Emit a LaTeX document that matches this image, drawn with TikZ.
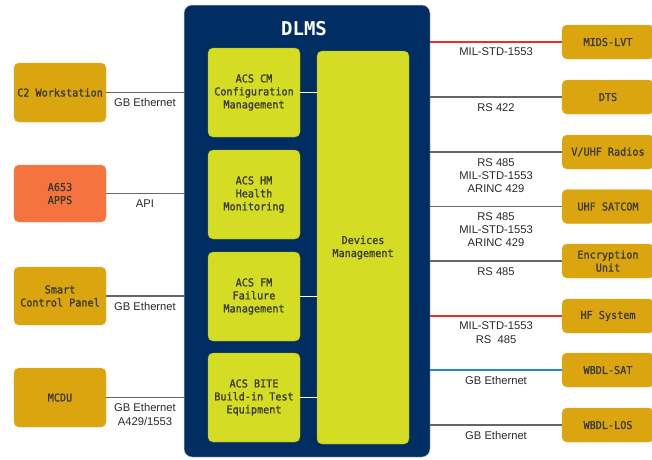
\documentclass[tikz,border=0pt]{standalone}
\usepackage{fontspec}
\setmainfont{Liberation Sans}
\newfontfamily\boxfont[FakeStretch=0.94,FakeBold=1.2]{DejaVu Sans Mono}
\newfontfamily\titlefont{DejaVu Sans Mono}
\definecolor{navy}{HTML}{002D62}
\definecolor{lime}{HTML}{D4DD23}
\definecolor{gold}{HTML}{DAA50F}
\definecolor{orangebox}{HTML}{F4733E}
\definecolor{boxtext}{HTML}{3A3A2E}
\definecolor{labeltext}{HTML}{2A2A2A}
\definecolor{linegray}{HTML}{666666}
\definecolor{linered}{HTML}{E8302A}
\definecolor{lineblue}{HTML}{1E88D0}
\tikzset{
  dev/.style={rectangle, rounded corners=5pt, fill=gold, draw=gold!85!white, minimum width=92pt, inner sep=1pt,
    font=\boxfont\fontsize{10.8}{13}\selectfont, text=boxtext, align=center},
  inbox/.style={rectangle, rounded corners=5pt, fill=lime, draw=lime!80!black, line width=0.4pt, minimum width=92pt, minimum height=89pt, inner sep=1pt,
    font=\boxfont\fontsize{10.8}{13}\selectfont, text=boxtext, align=center},
  lbl/.style={font=\fontsize{11.2}{13.2}\selectfont, text=labeltext, align=center, inner sep=0pt, anchor=north},
  conn/.style={line width=1.4pt, draw=linegray},
  wconn/.style={line width=1.6pt, draw=white},
}
\begin{document}
\begin{tikzpicture}[x=1pt,y=-1pt]
\clip (0,0) rectangle (652,459);
\fill[white] (0,0) rectangle (652,459);
% DLMS
\node[rectangle, rounded corners=8pt, fill=navy, draw=gray!40, line width=0.5pt, minimum width=246pt, minimum height=452pt, inner sep=0pt] (dlms) at (307,231) {};
\node[font=\titlefont\bfseries\fontsize{19}{22}\selectfont, text=white, inner sep=0pt] (title) at (304,29) {DLMS};
% inner boxes
\node[inbox] (cm) at (254,92.5) {ACS CM\\Configuration\\Management};
\node[inbox] (hm) at (254,194.5) {ACS HM\\Health\\Monitoring};
\node[inbox] (fm) at (254,296.5) {ACS FM\\Failure\\Management};
\node[inbox] (bite) at (254,397.5) {ACS BITE\\Build-in Test\\Equipment};
\node[inbox, minimum height=393pt] (dm) at (363,247.5) {Devices\\Management};
\draw[wconn] (cm.east) -- (cm.east -| dm.west);
\draw[wconn] (fm.east) -- (fm.east -| dm.west);
\draw[wconn] (bite.east) -- (bite.east -| dm.west);
% left devices
\node[dev, minimum height=59pt] (c2) at (60,92.5) {C2 Workstation};
\node[dev, minimum height=57pt, fill=orangebox, draw=orangebox!85!white] (a653) at (60,193.5) {A653\\APPS};
\node[dev, minimum height=58pt] (scp) at (60,296) {Smart\\Control Panel};
\node[dev, minimum height=59pt] (mcdu) at (60,397.5) {MCDU};
\draw[conn] (c2.east) -- (c2.east -| dlms.west) node[lbl, midway, below=5.5pt] {GB Ethernet};
\draw[conn] (a653.east) -- (a653.east -| dlms.west) node[lbl, midway, below=5.5pt] {API};
\draw[conn] (scp.east) -- (scp.east -| dlms.west) node[lbl, midway, below=5.5pt] {GB Ethernet};
\draw[conn] (mcdu.east) -- (mcdu.east -| dlms.west) node[lbl, midway, below=5.5pt] {GB Ethernet\\A429/1553};
% right devices
\node[dev, minimum height=34pt] (mids) at (608,42) {MIDS-LVT};
\node[dev, minimum height=34pt] (dts) at (608,97) {DTS};
\node[dev, minimum height=34pt] (vuhf) at (608,152) {V/UHF Radios};
\node[dev, minimum height=34pt] (uhf) at (608,206.5) {UHF SATCOM};
\node[dev, minimum height=34pt] (enc) at (608,261) {Encryption\\Unit};
\node[dev, minimum height=34pt] (hf) at (608,316) {HF System};
\node[dev, minimum height=34pt] (wsat) at (608,370) {WBDL-SAT};
\node[dev, minimum height=34pt] (wlos) at (608,425) {WBDL-LOS};
\draw[conn, draw=linered, line width=1.1pt] (dlms.east |- mids.west) -- (mids.west) node[lbl, midway, below=5.5pt] {MIL-STD-1553};
\draw[conn] (dlms.east |- dts.west) -- (dts.west) node[lbl, midway, below=5.5pt] {RS 422};
\draw[conn] (dlms.east |- vuhf.west) -- (vuhf.west) node[lbl, midway, below=5.5pt] {RS 485\\MIL-STD-1553\\ARINC 429};
\draw[conn] (dlms.east |- uhf.west) -- (uhf.west) node[lbl, midway, below=5.5pt] {RS 485\\MIL-STD-1553\\ARINC 429};
\draw[conn] (dlms.east |- enc.west) -- (enc.west) node[lbl, midway, below=5.5pt] {RS 485};
\draw[conn, draw=linered, line width=1.1pt] (dlms.east |- hf.west) -- (hf.west) node[lbl, midway, below=5.5pt] {MIL-STD-1553\\RS~~485};
\draw[conn, draw=lineblue, line width=1.1pt] (dlms.east |- wsat.west) -- (wsat.west) node[lbl, midway, below=5.5pt] {GB Ethernet};
\draw[conn] (dlms.east |- wlos.west) -- (wlos.west) node[lbl, midway, below=5.5pt] {GB Ethernet};
\end{tikzpicture}
\end{document}
